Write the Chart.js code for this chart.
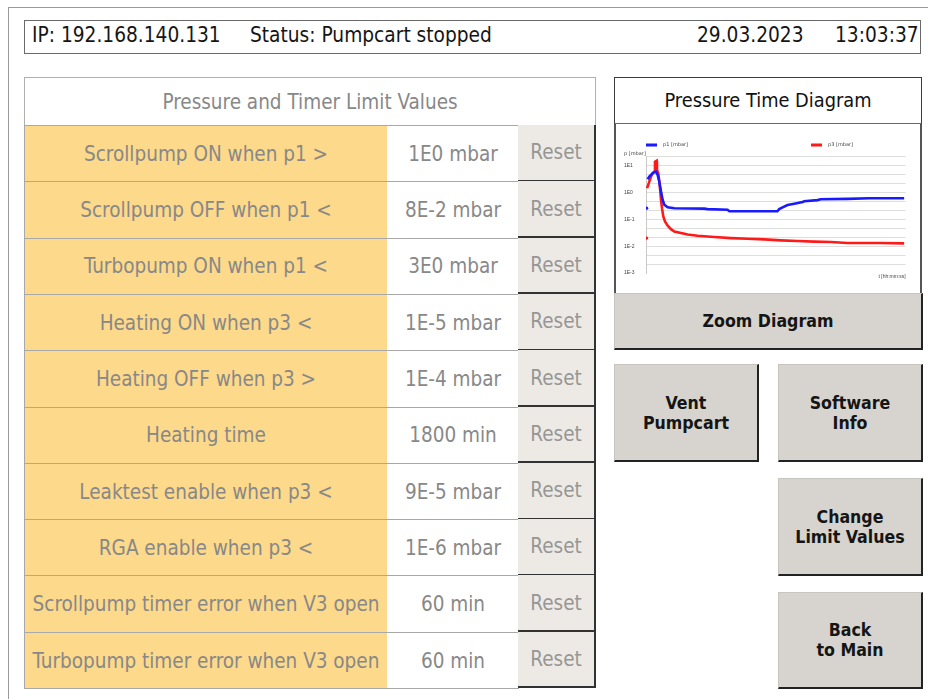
<!DOCTYPE html>
<html>
<head>
<meta charset="utf-8">
<script src="https://cdn.jsdelivr.net/npm/chart.js@4.4.1/dist/chart.umd.min.js"></script>
<style>
  html, body { margin: 0; padding: 0; background: #fff; }
  body { width: 928px; height: 699px; position: relative; overflow: hidden; font-family: "DejaVu Sans Condensed", "DejaVu Sans", sans-serif; }
  .abs { position: absolute; box-sizing: border-box; }
  .frame { left: 8px; top: 7px; width: 940px; height: 720px; border-left: 1px solid #9a9a9a; border-top: 1px solid #9a9a9a; }
  .hdr { left: 24px; top: 20px; width: 897px; height: 34px; border: 1px solid #6a6a6a; font-size: 20.7px; color: #151515; }
  .hdr span { position: absolute; top: 2px; white-space: nowrap; }
  .cell { display: flex; align-items: center; justify-content: center; white-space: nowrap; font-size: 20.5px; color: #888; }
  .thead { left: 24px; top: 77px; width: 572px; height: 49px; border: 1px solid #b0b0b0; border-bottom: none; background: #fff; }
  .c1 { background: #fdd98b; border-left: 1px solid #a8a8a8; border-top: 1px solid #a8a8a8; border-right: 1px solid #a8a8a8; }
  .c2 { background: #fff; border-top: 1px solid #a8a8a8; }
  .c3 { background: #edeae5; border-right: 2px solid #333; border-bottom: 2px solid #333; color: #969696; }
  .tbottom { left: 24px; top: 688px; width: 495px; height: 1px; background: #a8a8a8; }
  .dtitle { left: 614px; top: 77px; width: 308px; height: 48px; border: 1px solid #3c3c3c; border-bottom: 2px solid #6a6a6a; font-size: 19.8px; color: #111; }
  .dbody { left: 614px; top: 124px; width: 308px; height: 170px; border-left: 2px solid #555; border-right: 2px solid #555; background: #fff; }
  .btn { background: #d7d4cf; border-right: 2px solid #222; border-bottom: 2px solid #222; border-top: 1px solid #c8c5c0; border-left: 1px solid #c8c5c0;
         font-family: "DejaVu Sans Condensed", "DejaVu Sans", sans-serif; font-weight: bold; font-size: 17.6px; color: #151515; text-align: center; line-height: 20px; white-space: nowrap;
         display: flex; align-items: center; justify-content: center; }
  #chartBox { position: absolute; left: 615px; top: 125px; width: 306px; height: 167px; }
</style>
</head>
<body>
<div class="abs frame"></div>
<div class="abs hdr">
  <span style="left:7px">IP: 192.168.140.131</span>
  <span style="left:225px">Status: Pumpcart stopped</span>
  <span style="left:672px">29.03.2023</span>
  <span style="left:810px">13:03:37</span>
</div>

<div id="table"></div>

<div class="abs dtitle cell" style="color:#111">Pressure Time Diagram</div>
<div class="abs dbody"></div>
<div id="chartBox"><canvas id="chart"></canvas></div>

<div class="abs btn" style="left:614px; top:293px; width:309px; height:57px;">Zoom Diagram</div>
<div class="abs btn" style="left:614px; top:364px; width:145px; height:98px;">Vent<br>Pumpcart</div>
<div class="abs btn" style="left:778px; top:364px; width:145px; height:98px;">Software<br>Info</div>
<div class="abs btn" style="left:778px; top:478px; width:145px; height:98px;">Change<br>Limit Values</div>
<div class="abs btn" style="left:778px; top:592px; width:145px; height:97px;">Back<br>to Main</div>

<script>
// ---- table content ----
const tableTitle = "Pressure and Timer Limit Values";
const limitNames = [
  "Scrollpump ON when p1 >",
  "Scrollpump OFF when p1 <",
  "Turbopump ON when p1 <",
  "Heating ON when p3 <",
  "Heating OFF when p3 >",
  "Heating time",
  "Leaktest enable when p3 <",
  "RGA enable when p3 <",
  "Scrollpump timer error when V3 open",
  "Turbopump timer error when V3 open"
];
const limitValues = ["1E0 mbar", "8E-2 mbar", "3E0 mbar", "1E-5 mbar", "1E-4 mbar", "1800 min", "9E-5 mbar", "1E-6 mbar", "60 min", "60 min"];
const resetLabel = "Reset";

// ---- chart data (pressure in mbar vs. time in minutes) ----
const seriesLabels = ["p1 [mbar]", "p3 [mbar]"];
const blueTime = [0.26, 0.45, 0.64, 1.28, 1.92, 2.56, 3.21, 3.85, 4.49, 5.13, 5.77, 6.41, 7.05, 8.33, 10.9, 22.4, 23.7, 31.4, 32.1, 50.6, 51.3, 52.6, 54.5, 57.1, 60.3, 60.9, 66.0, 67.3, 77.6, 85.9, 99.4];
const bluePressure = [0.26, null, 3.1, 3.9, 4.5, 5.2, 5.7, 6.0, 4.5, 2.5, 1.08, 0.53, 0.35, 0.28, 0.26, 0.25, 0.24, 0.226, 0.20, 0.20, 0.24, 0.28, 0.34, 0.38, 0.44, 0.47, 0.52, 0.56, 0.58, 0.61, 0.61];
const redTime = [0.26, 0.32, 0.38, 0.64, 1.28, 1.92, 2.56, 3.21, 3.46, 4.10, 4.23, 4.74, 5.13, 5.51, 5.77, 6.15, 6.67, 7.31, 8.33, 9.62, 10.9, 13.5, 16.0, 19.9, 26.3, 32.7, 39.1, 45.5, 51.9, 58.3, 64.7, 71.2, 77.6, 90.4, 99.4];
const redPressure = [0.020, null, 1.44, 1.66, 2.55, 3.9, 5.2, 6.0, 14.1, 15.3, 6.9, 5.2, 2.5, 1.08, 0.53, 0.26, 0.128, 0.083, 0.058, 0.043, 0.035, 0.031, 0.027, 0.0245, 0.0218, 0.020, 0.0189, 0.0179, 0.0164, 0.0155, 0.0147, 0.0142, 0.0131, 0.0131, 0.0127];
const yTickExponents = [-3, -2, -1, 0, 1];
const yTickLabels = ["1E-3", "1E-2", "1E-1", "1E0", "1E1"];
const yAxisTitle = "p [mbar]";
const xAxisTitle = "t [hh:mm:ss]";

// ---- build table ----
(function buildTable() {
  const host = document.getElementById('table');
  const head = document.createElement('div');
  head.className = 'abs cell thead';
  head.textContent = tableTitle;
  host.appendChild(head);
  const top0 = 125, rowH = 56.3;
  limitNames.forEach((name, i) => {
    const t = top0 + i * rowH;
    const mk = (cls, left, width, text) => {
      const d = document.createElement('div');
      d.className = 'abs cell ' + cls;
      d.style.left = left + 'px';
      d.style.top = t + 'px';
      d.style.width = width + 'px';
      d.style.height = (rowH + 0.5) + 'px';
      d.textContent = text;
      host.appendChild(d);
    };
    mk('c1', 24, 364, name);
    mk('c2', 387, 132, limitValues[i]);
    mk('c3', 518, 78, resetLabel);
  });
  const b = document.createElement('div');
  b.className = 'abs tbottom';
  host.appendChild(b);
})();

// ---- chart ----
const blueColor = '#1a1aff';
const redColor = '#ff1a1a';

const legendMarks = {
  id: 'legendMarks',
  afterDraw(chart, args, opts) {
    const ctx = chart.ctx;
    ctx.save();
    ctx.font = '5px "DejaVu Sans"';
    ctx.textBaseline = 'middle';
    chart.data.datasets.forEach((ds, i) => {
      const x = opts.x[i], y = opts.y;
      ctx.fillStyle = ds.borderColor;
      ctx.fillRect(x, y - 1.5, 11, 3);
      ctx.fillStyle = '#444';
      ctx.fillText(ds.label, x + 17, y);
    });
    ctx.fillStyle = '#444';
    ctx.fillText(opts.title, opts.titleX, opts.titleY);
    ctx.restore();
  }
};

const toXY = (ts, ps) => ts.map((t, i) => ({ x: t, y: ps[i] }));

new Chart(document.getElementById('chart'), {
  type: 'line',
  data: {
    datasets: [
      { label: seriesLabels[0], data: toXY(blueTime, bluePressure), borderColor: blueColor, backgroundColor: blueColor, borderWidth: 2.6, spanGaps: false,
        pointRadius: c => c.dataIndex === 0 ? 1.6 : 0, pointBorderWidth: 0, pointHoverRadius: 0, tension: 0 },
      { label: seriesLabels[1], data: toXY(redTime, redPressure), borderColor: redColor, backgroundColor: redColor, borderWidth: 2.6, spanGaps: false,
        pointRadius: c => c.dataIndex === 0 ? 1.6 : 0, pointBorderWidth: 0, pointHoverRadius: 0, tension: 0 }
    ]
  },
  options: {
    responsive: true,
    maintainAspectRatio: false,
    animation: false,
    events: [],
    layout: { padding: { top: 31.7, right: 15.3, bottom: 12, left: 9 } },
    plugins: {
      legend: { display: false },
      tooltip: { enabled: false },
      legendMarks: { x: [31, 196], y: 20, title: yAxisTitle, titleX: 9, titleY: 28.5 }
    },
    scales: {
      x: {
        type: 'linear', min: 0, max: 100,
        grid: { display: false },
        border: { display: false },
        ticks: { display: false },
        title: { display: true, text: xAxisTitle, align: 'end', color: '#444', font: { size: 5 }, padding: 0 },
        afterFit(scale) { scale.height = 7; }
      },
      y: {
        type: 'logarithmic',
        min: Math.pow(10, -3),
        max: Math.pow(10, 4 / 3),
        afterBuildTicks(scale) {
          const t = [];
          for (let k = -9; k <= 4; k++) t.push({ value: Math.pow(10, k / 3) });
          scale.ticks = t;
        },
        afterFit(scale) { scale.width = 22; },
        grid: {
          drawTicks: false,
          lineWidth: 1,
          color: c => (c.tick && c.tick.value < 0.0011) ? 'rgba(0,0,0,0)' : '#dedede'
        },
        border: { display: true, color: '#c8c8c8', width: 1 },
        ticks: {
          autoSkip: false,
          crossAlign: 'far',
          padding: 2,
          color: '#444',
          font: { size: 5 },
          callback(value) {
            const e = Math.log10(value);
            const r = Math.round(e);
            if (Math.abs(e - r) < 1e-6) {
              const idx = yTickExponents.indexOf(r);
              return idx >= 0 ? yTickLabels[idx] : '';
            }
            return '';
          }
        }
      }
    }
  },
  plugins: [legendMarks]
});
</script>
</body>
</html>
